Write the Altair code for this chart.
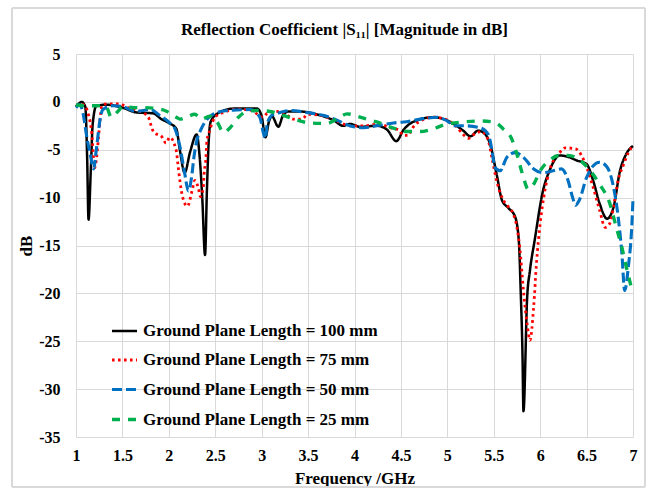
import altair as alt
import pandas as pd

# ---------------- data ----------------
labels = [
    "Ground Plane Length = 100 mm",
    "Ground Plane Length = 75 mm",
    "Ground Plane Length = 50 mm",
    "Ground Plane Length = 25 mm",
]

freq_100 = [1.0, 1.03, 1.06, 1.1, 1.12, 1.135, 1.16, 1.18, 1.22, 1.33, 1.5, 1.65, 1.83, 1.92, 2.0,
            2.08, 2.12, 2.17, 2.23, 2.3, 2.33, 2.36, 2.39, 2.41, 2.43, 2.45, 2.52, 2.7, 2.95, 3.0,
            3.04, 3.08, 3.11, 3.18, 3.23, 3.29, 3.41, 3.59, 3.77, 3.88, 3.95, 4.06, 4.24, 4.35, 4.45,
            4.53, 4.63, 4.85, 4.96, 5.1, 5.17, 5.25, 5.33, 5.4, 5.46, 5.53, 5.59, 5.66, 5.73, 5.77,
            5.79, 5.81, 5.82, 5.86, 5.89, 5.94, 6.03, 6.1, 6.21, 6.32, 6.39, 6.5, 6.57, 6.64, 6.72,
            6.79, 6.86, 6.93, 7.0]
s11_100 = [-0.5, -0.2, 0.0, -0.5, -5.8, -12.3, -7.0, -2.3, -0.4, -0.3, -0.6, -1.1, -1.2, -1.8, -2.2,
           -2.8, -5.1, -7.4, -5.2, -3.4, -5.5, -10.0, -16.0, -9.3, -4.0, -2.1, -1.25, -0.7, -0.7, -1.5,
           -3.7, -2.0, -1.5, -2.6, -1.4, -1.0, -1.0, -1.3, -1.9, -2.5, -2.3, -2.6, -2.5, -2.9, -4.1,
           -2.9, -2.1, -1.6, -1.8, -2.5, -3.0, -3.6, -3.0, -3.3, -4.4, -7.5, -10.3, -11.1, -12.0, -14.5,
           -19.7, -26.6, -32.3, -20.4, -17.6, -14.5, -9.3, -7.2, -5.6, -5.8, -6.1, -6.5, -8.2, -10.6, -12.2,
           -11.0, -7.2, -5.4, -4.6]

freq_75 = [1.0, 1.08, 1.13, 1.17, 1.2, 1.24, 1.26, 1.28, 1.33, 1.46, 1.56, 1.69, 1.78, 1.8, 1.84,
           1.92, 1.97, 2.01, 2.08, 2.1, 2.12, 2.15, 2.2, 2.25, 2.28, 2.32, 2.34, 2.37, 2.38, 2.4,
           2.41, 2.44, 2.47, 2.52, 2.59, 2.73, 2.89, 3.01, 3.06, 3.15, 3.25, 3.34, 3.43, 3.5, 3.63,
           3.81, 3.95, 4.1, 4.27, 4.38, 4.47, 4.53, 4.58, 4.62, 4.69, 4.85, 5.0, 5.1, 5.17, 5.23,
           5.3, 5.37, 5.44, 5.48, 5.53, 5.59, 5.66, 5.71, 5.75, 5.78, 5.82, 5.86, 5.89, 5.93, 5.96,
           6.0, 6.05, 6.1, 6.21, 6.27, 6.38, 6.5, 6.57, 6.64, 6.7, 6.75, 6.79, 6.84, 6.9, 6.95, 7.0]
s11_75 = [-0.4, -0.3, -1.2, -3.3, -6.9, -4.0, -1.7, -0.4, -0.2, -0.2, -0.6, -1.0, -1.6, -2.2, -3.2,
          -3.6, -4.3, -3.7, -5.1, -6.7, -8.3, -10.0, -10.9, -9.3, -8.2, -9.1, -9.9, -9.0, -7.5, -5.8,
          -4.1, -3.0, -2.1, -1.4, -1.1, -0.75, -0.9, -1.6, -1.2, -1.0, -1.2, -1.8, -1.8, -1.3, -1.4,
          -2.0, -2.5, -2.5, -2.3, -2.7, -2.9, -3.5, -3.5, -2.8, -2.1, -1.6, -1.9, -2.6, -3.4, -3.8,
          -3.3, -3.1, -4.0, -5.8, -8.2, -10.0, -11.0, -11.7, -13.1, -15.2, -19.7, -23.2, -24.9, -21.4, -16.9,
          -12.7, -9.3, -7.2, -5.3, -4.8, -4.9, -6.8, -8.9, -11.3, -13.1, -12.7, -11.0, -8.2, -6.5, -5.3, -4.6]

freq_50 = [1.0, 1.04, 1.08, 1.11, 1.16, 1.19, 1.22, 1.26, 1.29, 1.4, 1.5, 1.65, 1.8, 1.9, 2.01,
           2.07, 2.12, 2.17, 2.21, 2.25, 2.27, 2.3, 2.34, 2.39, 2.46, 2.59, 2.73, 2.88, 2.98, 3.02,
           3.04, 3.06, 3.11, 3.2, 3.31, 3.48, 3.66, 3.81, 3.95, 4.1, 4.24, 4.42, 4.53, 4.71, 4.89,
           5.0, 5.08, 5.2, 5.35, 5.44, 5.48, 5.51, 5.57, 5.64, 5.73, 5.82, 5.93, 6.03, 6.14, 6.23,
           6.3, 6.35, 6.38, 6.42, 6.5, 6.57, 6.64, 6.72, 6.79, 6.84, 6.88, 6.91, 6.95, 6.99, 7.0]
s11_50 = [-0.6, -0.3, -1.4, -3.3, -5.8, -7.0, -4.9, -1.8, -0.8, -0.4, -0.5, -1.0, -0.8, -1.4, -2.2,
          -2.9, -4.7, -7.4, -9.3, -7.5, -5.8, -4.1, -3.0, -2.1, -1.4, -0.95, -0.85, -0.8, -1.6, -3.3,
          -3.8, -2.3, -1.4, -1.1, -0.9, -1.1, -1.4, -1.9, -2.5, -2.7, -2.5, -2.2, -2.1, -1.8, -1.6,
          -2.0, -2.5, -2.5, -2.7, -3.4, -5.0, -6.8, -7.2, -5.8, -5.3, -5.8, -7.0, -7.4, -7.2, -7.0,
          -8.2, -10.0, -10.8, -10.3, -7.9, -6.7, -6.3, -6.8, -8.9, -12.0, -15.8, -19.7, -17.2, -12.4, -10.1]

freq_25 = [1.0, 1.1, 1.24, 1.33, 1.38, 1.44, 1.51, 1.62, 1.72, 1.87, 1.98, 2.08, 2.12, 2.19, 2.28,
           2.35, 2.44, 2.52, 2.59, 2.66, 2.75, 2.84, 2.95, 3.09, 3.23, 3.38, 3.52, 3.7, 3.84, 3.92,
           4.06, 4.24, 4.38, 4.56, 4.71, 4.85, 5.0, 5.17, 5.35, 5.5, 5.6, 5.69, 5.76, 5.82, 5.87,
           5.93, 6.0, 6.1, 6.21, 6.3, 6.43, 6.54, 6.64, 6.75, 6.82, 6.88, 6.93, 6.99]
s11_25 = [-0.3, -0.4, -0.4, -0.6, -1.6, -1.1, -0.5, -0.6, -0.6, -0.7, -1.0, -1.6, -1.8, -1.6, -1.3,
          -1.8, -1.5, -2.1, -3.2, -2.7, -1.6, -1.0, -0.9, -1.0, -1.4, -1.9, -2.2, -2.25, -1.6, -1.25,
          -1.6, -2.1, -2.6, -3.1, -3.1, -2.8, -2.3, -2.1, -2.0, -2.1, -2.8, -3.8, -5.8, -7.9, -9.1,
          -8.6, -7.2, -6.1, -5.6, -5.6, -6.1, -7.2, -8.6, -10.6, -13.1, -15.2, -17.3, -19.7]

x_ticks = [1, 1.5, 2, 2.5, 3, 3.5, 4, 4.5, 5, 5.5, 6, 6.5, 7]
y_ticks = [-35, -30, -25, -20, -15, -10, -5, 0, 5]

colors = ["#000000", "#ff0000", "#0070c0", "#00b050"]
dashes = [[1, 0], [2.6, 3.4], [10, 4], [8, 8]]
widths = [2.5, 3.4, 4, 3.2]

rows = []
for lab, xs, ys in zip(labels, [freq_100, freq_75, freq_50, freq_25],
                       [s11_100, s11_75, s11_50, s11_25]):
    for x, y in zip(xs, ys):
        rows.append({"series": lab, "freq": x, "db": y})
df = pd.DataFrame(rows)

FONT = "Liberation Serif"

lines = alt.Chart(df).mark_line(
    interpolate="monotone", strokeCap="butt", strokeJoin="round"
).encode(
    x=alt.X("freq:Q",
            scale=alt.Scale(domain=[1, 7], nice=False, zero=False),
            axis=alt.Axis(values=x_ticks, labelExpr="'' + datum.value",
                          title="Frequency /GHz", titleY=41, titleBaseline="middle",
                          labelPadding=10)),
    y=alt.Y("db:Q",
            scale=alt.Scale(domain=[-35, 5], nice=False, zero=False),
            axis=alt.Axis(values=y_ticks, labelExpr="'' + datum.value",
                          title="dB", titleX=-50, titleY=191.5, titleBaseline="middle",
                          labelPadding=16)),
    color=alt.Color("series:N", scale=alt.Scale(domain=labels, range=colors), title=None),
    strokeDash=alt.StrokeDash("series:N", scale=alt.Scale(domain=labels, range=dashes), title=None),
    strokeWidth=alt.StrokeWidth("series:N", scale=alt.Scale(domain=labels, range=widths), title=None),
)

border = alt.Chart(df).mark_rect(fill=None, stroke="#d9d9d9", strokeWidth=1).encode(
    x=alt.value(-64), x2=alt.value(569), y=alt.value(-46), y2=alt.value(433)
)

chart = alt.layer(border, lines).properties(
    width=557, height=383,
    autosize=alt.AutoSizeParams(type="none"),
    padding={"left": 76, "top": 54, "right": 16, "bottom": 52},
    title=alt.TitleParams(
        text="Reflection Coefficient |S₁₁| [Magnitude in dB]",
        font=FONT, fontSize=17, fontWeight="bold", color="#000000",
        anchor="middle", frame="group", dx=-10, offset=0, dy=31,
    ),
).configure_view(
    stroke=None
).configure_axis(
    grid=True, gridColor="#d9d9d9", gridWidth=1,
    domain=False, ticks=False, tickSize=0,
    labelFont=FONT, labelFontSize=16, labelFontWeight="bold", labelColor="#000000",
    titleFont=FONT, titleFontSize=17, titleFontWeight="bold", titleColor="#000000",
    labelFlush=False, labelOverlap=False,
).configure_legend(
    orient="none", legendX=34, legendY=263,
    symbolType="stroke", symbolSize=625,
    labelFont=FONT, labelFontSize=17, labelFontWeight="bold", labelColor="#000000",
    labelLimit=0, labelOffset=4, rowPadding=7, padding=0,
)

chart.save("out.html", embed_options={"renderer": "svg", "actions": False})
